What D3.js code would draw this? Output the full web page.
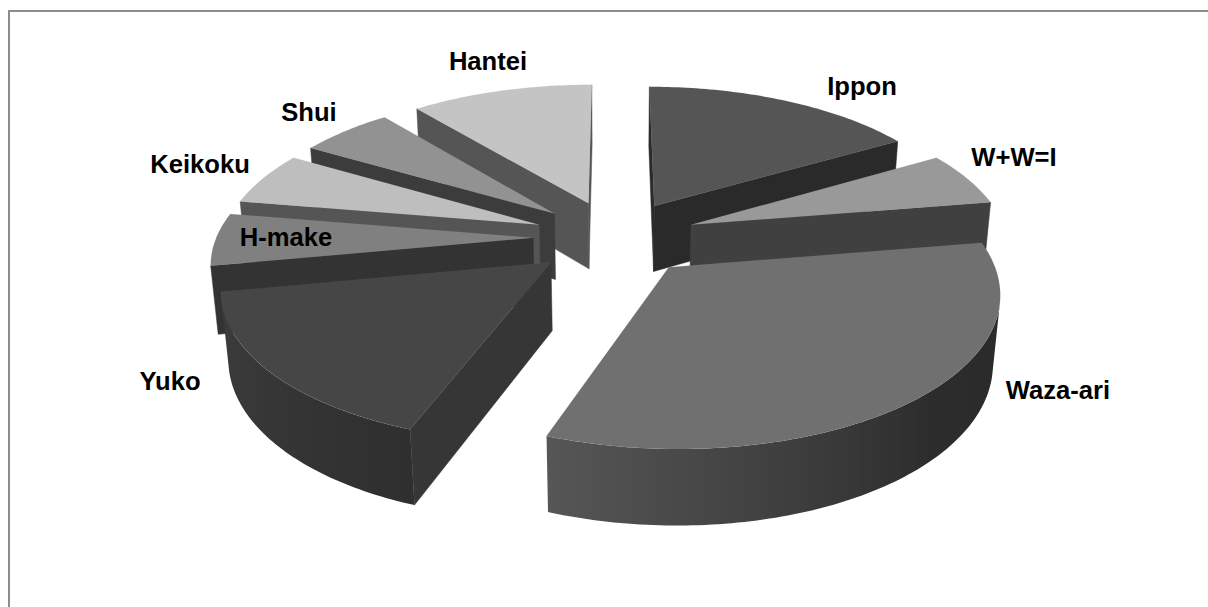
<!DOCTYPE html>
<html><head><meta charset="utf-8">
<script src="https://cdn.jsdelivr.net/npm/d3@7"></script>
<style>html,body{margin:0;padding:0;background:#fff}svg{display:block}</style>
</head><body><svg id="c" width="1208" height="607"></svg>
<script>
const categories = ["Ippon","W+W=I","Waza-ari","Yuko","H-make","Keikoku","Shui","Hantei"];
const shares = [16.5,5.9,33.2,16.4,5.7,5.8,5.6,10.9];
const topColors = ["#555555","#999999","#707070","#464646","#808080","#bebebe","#929292","#c4c4c4"];
const wallColors = ["#2a2a2a","#404040","#565656","#363636","#333333","#555555","#3c3c3c","#555555"];
const labelAnchors = [[862,86],[1014,157],[1058,390],[170,381],[286,237],[200,164],[309,112],[488,61]];
const paintOrder = [7,6,5,4,0,1,3,2];

const svg=d3.select("#c");
svg.append("rect").attr("x",9).attr("y",11).attr("width",1300).attr("height",700).attr("fill","#fff").attr("stroke","#8c8c8c").attr("stroke-width",2);

const cx=615, cy=237.5, S=330, phi=27.3*Math.PI/180, D=5.8;
const R=0.96, explode=0.248, thick=0.233;
function proj(x,v,h){
  const yc=h*Math.cos(phi)-v*Math.sin(phi);
  const zc=h*Math.sin(phi)+v*Math.cos(phi);
  const s=D/(D-zc);
  return [cx+S*x*s, cy-S*yc*s];
}
const pie=d3.pie().sort(null).value(d=>d);
const arcs=pie(shares);
const line=d3.line().curve(d3.curveLinearClosed);
const shadeRight=d3.scaleLinear().domain([90,135,200]).range(["#2a2a2a","#2c2c2c","#565656"]).clamp(true);
const shadeLeft=d3.scaleLinear().domain([200,262]).range(["#2f2f2f","#3e3e3e"]).clamp(true);
const deg=Math.PI/180;
const defs=svg.append("defs");

const g=svg.append("g");
paintOrder.forEach(i=>{
  const a=arcs[i];
  const mid=(a.startAngle+a.endAngle)/2;
  const shade=mid<Math.PI?shadeRight:shadeLeft;
  const ox=explode*Math.sin(mid), ov=-explode*Math.cos(mid);
  const P=(ang,r,h)=>proj(ox+r*Math.sin(ang),ov-r*Math.cos(ang),h);
  const sl=g.append("g").attr("class","slice");
  const wall=(ang,flip)=>{
    const p=[P(ang,0,0),P(ang,R,0),P(ang,R,-thick),P(ang,0,-thick)];
    const A=d3.polygonArea(p);
    if((flip?A:-A)>0) sl.append("path").attr("d",line(p)).attr("fill",wallColors[i]).attr("stroke",wallColors[i]).attr("stroke-width",.5);
  };
  wall(a.startAngle,true);
  wall(a.endAngle,false);
  const ts=d3.range(a.startAngle,a.endAngle,1*deg).concat([a.endAngle]);
  const vis=ts.filter((t,k)=>{
    const t1=ts[k+1]; const t0=ts[k-1];
    const u=t1!==undefined?[t,t1]:[t0,t];
    return d3.polygonArea([P(u[0],R,0),P(u[1],R,0),P(u[1],R,-thick),P(u[0],R,-thick)])>0;
  });
  if(vis.length>1){
    const tp=vis.map(t=>P(t,R,0)), bt=vis.map(t=>P(t,R,-thick));
    const xs=tp.concat(bt).map(d=>d[0]);
    const x0=d3.min(xs), x1=d3.max(xs);
    const id="wall"+i;
    const gr=defs.append("linearGradient").attr("id",id).attr("gradientUnits","userSpaceOnUse")
      .attr("x1",x0).attr("x2",x1).attr("y1",0).attr("y2",0);
    const stops=vis.map(t=>({o:(P(t,R,0)[0]-x0)/(x1-x0),c:shade(t/deg)})).sort((p,q)=>p.o-q.o);
    gr.selectAll("stop").data(stops).join("stop").attr("offset",d=>d.o).attr("stop-color",d=>d.c);
    sl.append("path").attr("d",line(tp.concat(bt.reverse()))).attr("fill",`url(#${id})`);
  }
  const pts=[P(0,0,0)].concat(d3.range(a.startAngle,a.endAngle,1*deg).concat([a.endAngle]).map(t=>P(t,R,0)));
  sl.append("path").attr("d",line(pts)).attr("fill",topColors[i]).attr("stroke","#9a9a9a").attr("stroke-opacity",.12).attr("stroke-width",.6);
});

svg.append("g").selectAll("text").data(categories).join("text")
  .attr("x",(d,i)=>labelAnchors[i][0]).attr("y",(d,i)=>labelAnchors[i][1]+9)
  .attr("text-anchor","middle")
  .attr("font-family","'Liberation Sans',Arial,sans-serif").attr("font-weight","bold").attr("font-size",25.6)
  .attr("fill","#000").text(d=>d);
</script></body></html>
